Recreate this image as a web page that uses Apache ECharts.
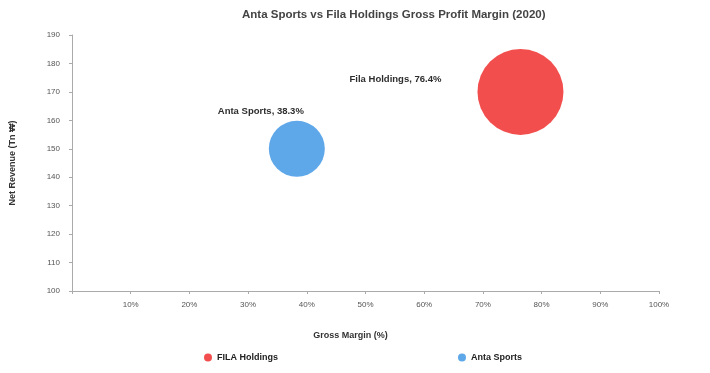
<!DOCTYPE html>
<html><head><meta charset="utf-8">
<script src="https://cdn.jsdelivr.net/npm/echarts@6/dist/echarts.min.js"></script>
<style>html,body{margin:0;padding:0;background:#fff}#c{width:710px;height:373px}</style>
</head><body><div id="c"></div>
<script>
const companies = ['FILA Holdings', 'Anta Sports'];
const grossMargin = [76.4, 38.3];     // x, %
const netSales = [170, 150];          // y
const bubbleSize = [8.6, 5.6];        // bubble size measure
const xTicks = [0,10,20,30,40,50,60,70,80,90,100];
const yTicks = [100,110,120,130,140,150,160,170,180,190];
const colors = ['#f24444', '#55a2e8'];
const labelPos = [[-82, 30], [-8, -9]];

const chart = echarts.init(document.getElementById('c'));
const series = companies.map((name, i) => ({
  name: name,
  type: 'scatter',
  data: [[grossMargin[i], netSales[i], bubbleSize[i]]],
  symbolSize: v => v[2] * 10,
  itemStyle: { color: colors[i], opacity: 0.95 },
  label: {
    show: true,
    position: labelPos[i],
    align: 'center', verticalAlign: 'middle',
    formatter: p => name.replace('FILA', 'Fila') + ', ' + p.value[0].toFixed(1) + '%',
    fontSize: 9.5, fontWeight: 'bold', color: '#222', fontFamily: 'Liberation Sans'
  }
}));

chart.setOption({
  animation: false,
  title: {
    text: 'Anta Sports vs Fila Holdings Gross Profit Margin (2020)',
    left: 237, top: 4,
    textStyle: { fontSize: 11.5, fontWeight: 'bold', color: '#444', fontFamily: 'Liberation Sans' }
  },
  legend: {
    bottom: 6, left: 199, itemGap: 180,
    icon: 'circle', itemWidth: 8, itemHeight: 8,
    textStyle: { fontSize: 9, fontWeight: 'bold', color: '#222', fontFamily: 'Liberation Sans' },
    data: companies
  },
  grid: { left: 71, right: 51, top: 35, bottom: 82 },
  xAxis: {
    type: 'value', min: xTicks[0], max: xTicks[xTicks.length-1], interval: 10,
    name: 'Gross Margin (%)', nameLocation: 'middle', nameGap: 40,
    nameTextStyle: { fontSize: 9, fontWeight: 'bold', color: '#333', fontFamily: 'Liberation Sans', padding: [0, 30, 0, 0] },
    axisLine: { lineStyle: { color: '#aaa' } },
    axisTick: { show: true, length: 3, inside: false, lineStyle: { color: '#aaa' } },
    splitLine: { show: false },
    axisLabel: { fontSize: 8, color: '#555', margin: 10, formatter: v => v === 0 ? '' : v + '%' }
  },
  yAxis: {
    type: 'value', min: yTicks[0], max: yTicks[yTicks.length-1], interval: 10,
    name: 'Net Revenue (Tn ₩)', nameLocation: 'middle', nameGap: 55,
    nameTextStyle: { fontSize: 9, fontWeight: 'bold', color: '#333', fontFamily: 'Liberation Sans', padding: [0, 0, 0, 0] },
    axisLine: { show: true, lineStyle: { color: '#aaa' } },
    axisTick: { show: true, length: 3, lineStyle: { color: '#aaa' } },
    splitLine: { show: false },
    axisLabel: { fontSize: 8, color: '#555', margin: 12 }
  },
  series: series
});
</script></body></html>
